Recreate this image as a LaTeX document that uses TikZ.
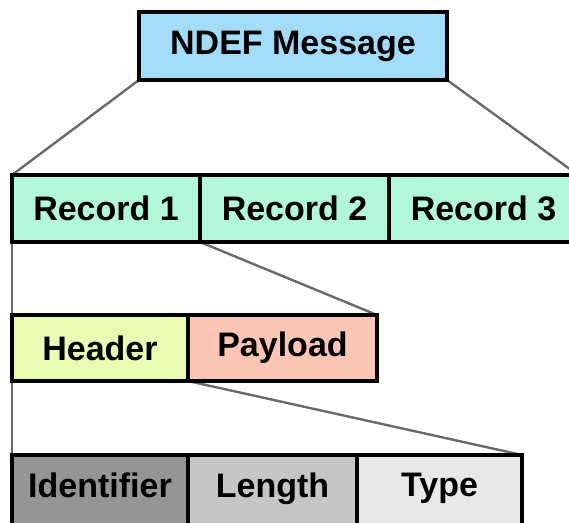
\documentclass[tikz,border=0pt]{standalone}
\usepackage{fontspec}
\setmainfont{Liberation Sans}
\usetikzlibrary{positioning,backgrounds}
\definecolor{msgblue}{HTML}{A2DCF8}
\definecolor{recmint}{HTML}{B2F8D8}
\definecolor{hdrlime}{HTML}{E8FCB2}
\definecolor{paysalmon}{HTML}{FCC6B6}
\definecolor{iddark}{HTML}{959595}
\definecolor{lenmid}{HTML}{C6C6C6}
\definecolor{typelight}{HTML}{E8E8E8}
\definecolor{zoomgray}{HTML}{6A6A6A}

\begin{document}
\begin{tikzpicture}[
  x=1pt, y=-1pt,
  font=\fontsize{34}{37}\selectfont\bfseries,
  field/.style={draw=black, line width=4.5pt, inner sep=0pt, outer sep=0pt,
                align=center},
  msg/.style={field, fill=msgblue, minimum width=308pt, minimum height=68pt},
  rec/.style={field, fill=recmint, minimum width=189pt, minimum height=67pt},
  part/.style={field, minimum height=66pt},
  sub/.style={field, minimum height=90pt, text depth=30pt},
  zoomline/.style={draw=zoomgray, line width=2.4pt}
]
\useasboundingbox (0,0) rectangle (569,522);

% message
\node[msg] (ndef) at (293,46) {NDEF Message};

% records
\node[rec, anchor=north west, minimum width=188pt] (rec1) at (12,175) {Record 1};
\node[rec, right=0pt of rec1] (rec2) {Record 2};
\node[rec, right=0pt of rec2] (rec3) {Record 3};

% record 1 split into header and payload
\node[part, fill=hdrlime, minimum width=176pt, below right=73pt and 0pt of rec1.south west] (header) {Header};
\node[part, fill=paysalmon, minimum width=189pt, right=0pt of header] (payload) {Payload};

% header fields
\node[sub, fill=iddark, minimum width=176pt, below right=74pt and 0pt of header.south west] (ident) {Identifier};
\node[sub, fill=lenmid, minimum width=169pt, right=0pt of ident] (length) {Length};
\node[sub, fill=typelight, minimum width=165pt, right=0pt of length] (type) {Type};

\begin{scope}[on background layer]
  \draw[zoomline] (ndef.south west) -- (rec1.north west);
  \draw[zoomline] (ndef.south east) -- (rec3.north east);
  \draw[zoomline] (rec1.south west) -- (header.north west);
  \draw[zoomline] (rec1.south east) -- (payload.north east);
  \draw[zoomline] (header.south west) -- (ident.north west);
  \draw[zoomline] (header.south east) -- (type.north east);
\end{scope}

\end{tikzpicture}
\end{document}
